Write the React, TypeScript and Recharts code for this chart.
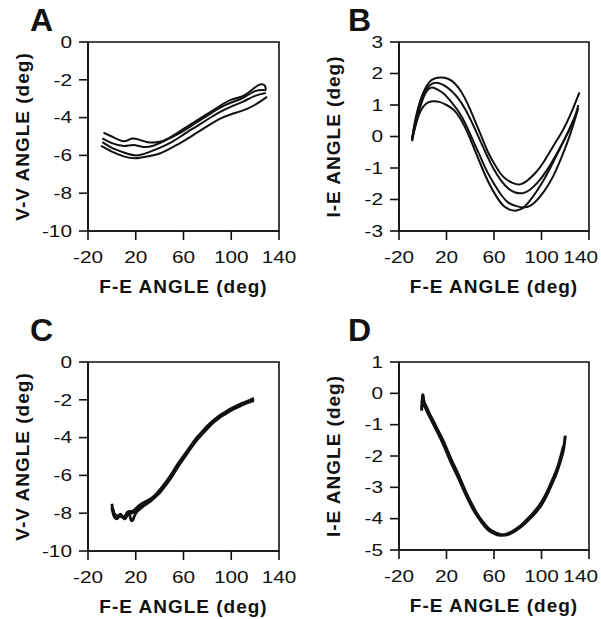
import React from 'react'
import { LineChart, Line, XAxis, YAxis, ReferenceArea } from 'recharts'

type Pt = [number, number]

// F-E angle ticks (shared by every panel)
const X_TICKS = [-20, 20, 60, 100, 140]
const VV_TICKS = [0, -2, -4, -6, -8, -10]
const IE_TICKS_B = [3, 2, 1, 0, -1, -2, -3]
const IE_TICKS_D = [1, 0, -1, -2, -3, -4, -5]

// Panel A: V-V angle, several cycles
const A_RUN1: Pt[] = [[-7, -4.8], [0, -5.0], [10, -5.25], [16, -5.12], [22, -5.15], [30, -5.3], [40, -5.28], [50, -5.0], [60, -4.6], [70, -4.2], [80, -3.8], [90, -3.4], [100, -3.05], [110, -2.85], [118, -2.5], [124, -2.25], [128, -2.3], [129, -2.55]]
const A_RUN2: Pt[] = [[-8, -5.1], [0, -5.35], [10, -5.5], [18, -5.45], [26, -5.55], [34, -5.5], [42, -5.3], [50, -5.05], [60, -4.7], [70, -4.3], [80, -3.9], [90, -3.5], [100, -3.2], [110, -2.95], [120, -2.6], [129, -2.55]]
const A_RUN3: Pt[] = [[-8, -5.3], [0, -5.6], [10, -5.85], [20, -6.0], [30, -5.85], [40, -5.6], [50, -5.3], [60, -4.9], [70, -4.5], [80, -4.1], [90, -3.72], [100, -3.42], [110, -3.15], [120, -2.85], [129, -2.7]]
const A_RUN4: Pt[] = [[-9, -5.5], [0, -5.8], [10, -6.05], [20, -6.15], [30, -6.05], [40, -5.9], [50, -5.6], [60, -5.25], [70, -4.85], [80, -4.45], [90, -4.08], [100, -3.82], [110, -3.62], [120, -3.32], [130, -2.9]]

// Panel B: I-E angle, several cycles
const B_RUN1: Pt[] = [[-9, -0.1], [-7, 0.4], [-4, 0.9], [0, 1.35], [5, 1.7], [10, 1.84], [15, 1.87], [20, 1.85], [25, 1.75], [30, 1.55], [35, 1.25], [40, 0.85], [45, 0.4], [50, -0.05], [55, -0.5], [60, -0.85], [65, -1.15], [70, -1.35], [76, -1.48], [82, -1.52], [88, -1.4], [95, -1.15], [102, -0.8], [110, -0.3], [118, 0.2], [125, 0.75], [132, 1.4]]
const B_RUN2: Pt[] = [[-9, -0.05], [-6, 0.5], [-2, 1.05], [3, 1.5], [8, 1.68], [13, 1.7], [18, 1.62], [24, 1.45], [30, 1.2], [36, 0.85], [42, 0.4], [48, -0.1], [54, -0.6], [60, -1.05], [66, -1.4], [72, -1.65], [78, -1.78], [84, -1.8], [90, -1.7], [97, -1.45], [104, -1.1], [112, -0.6], [120, -0.05], [127, 0.5], [131, 1.0]]
const B_RUN3: Pt[] = [[-9, -0.15], [-6, 0.4], [-2, 0.95], [2, 1.35], [7, 1.55], [12, 1.5], [18, 1.35], [24, 1.1], [30, 0.8], [36, 0.4], [42, -0.1], [48, -0.6], [54, -1.1], [60, -1.5], [66, -1.85], [72, -2.1], [78, -2.2], [86, -2.25], [94, -2.1], [102, -1.75], [110, -1.25], [117, -0.65], [124, 0.05], [131, 0.9]]
const B_RUN4: Pt[] = [[-9, -0.1], [-6, 0.35], [-2, 0.8], [3, 1.05], [8, 1.12], [14, 1.1], [20, 1.0], [26, 0.85], [32, 0.55], [38, 0.1], [44, -0.45], [50, -1.0], [56, -1.5], [62, -1.9], [68, -2.2], [74, -2.33], [79, -2.35], [85, -2.25], [92, -1.95], [100, -1.5], [108, -0.95], [116, -0.35], [123, 0.2], [130, 0.8]]

// Panel C: V-V angle, cycles nearly on top of each other
const C_RUN1: Pt[] = [[0, -7.5], [1, -7.9], [3, -8.1], [6, -8.15], [10, -8.2], [14, -8.05], [18, -7.95], [22, -7.75], [26, -7.55], [30, -7.4], [35, -7.2], [40, -6.85], [45, -6.45], [50, -6.0], [55, -5.5], [60, -5.05], [65, -4.6], [70, -4.15], [75, -3.8], [80, -3.45], [85, -3.15], [90, -2.9], [95, -2.7], [100, -2.5], [105, -2.35], [110, -2.2], [115, -2.08], [119, -1.98]]
const C_RUN2: Pt[] = [[0, -7.7], [2, -8.2], [5, -8.25], [8, -8.1], [11, -8.3], [14, -8.0], [16, -8.35], [18, -8.3], [20, -8.0], [24, -7.75], [28, -7.55], [32, -7.38], [36, -7.15], [40, -6.92], [45, -6.52], [50, -6.08], [55, -5.58], [60, -5.12], [65, -4.66], [70, -4.22], [75, -3.86], [80, -3.52], [85, -3.2], [90, -2.95], [95, -2.75], [100, -2.55], [105, -2.4], [110, -2.25], [115, -2.12], [119, -2.05]]
const C_RUN3: Pt[] = [[1, -7.8], [4, -8.3], [7, -8.05], [10, -8.25], [13, -7.95], [17, -7.9], [21, -7.7], [25, -7.5], [30, -7.33], [35, -7.12], [40, -6.78], [45, -6.38], [50, -5.93], [55, -5.43], [60, -4.98], [65, -4.54], [70, -4.09], [75, -3.74], [80, -3.39], [85, -3.1], [90, -2.85], [95, -2.65], [100, -2.46], [105, -2.3], [110, -2.16], [115, -2.04], [119, -1.92]]

// Panel D: I-E angle, cycles nearly on top of each other
const D_RUN1: Pt[] = [[-1, -0.55], [0, -0.05], [1, -0.3], [2, -0.35], [5, -0.6], [9, -0.9], [13, -1.2], [17, -1.5], [21, -1.85], [25, -2.2], [30, -2.6], [35, -3.05], [40, -3.45], [45, -3.8], [50, -4.08], [55, -4.3], [60, -4.43], [65, -4.5], [70, -4.52], [75, -4.45], [80, -4.33], [85, -4.18], [90, -4.0], [95, -3.8], [100, -3.55], [105, -3.2], [110, -2.78], [113, -2.5], [116, -2.15], [118.5, -1.8], [120, -1.35]]
const D_RUN2: Pt[] = [[-0.5, -0.45], [0.5, -0.2], [2, -0.42], [5, -0.68], [9, -0.98], [13, -1.28], [17, -1.6], [21, -1.95], [25, -2.3], [30, -2.7], [35, -3.12], [40, -3.52], [45, -3.86], [50, -4.13], [55, -4.35], [60, -4.47], [65, -4.53], [70, -4.5], [75, -4.42], [80, -4.3], [85, -4.14], [90, -3.95], [95, -3.74], [100, -3.48], [105, -3.13], [110, -2.7], [113, -2.42], [116, -2.05], [118.5, -1.68]]

const FONT = 'Arial, "Liberation Sans", Helvetica, sans-serif'
const INK = '#111'
const STRETCH = 1.3

const toData = (pts: Pt[]) => pts.map(([x, y]) => ({ x, y }))

const XTick = (props: any) => {
    const { x, y, payload, limit } = props
    const label = String(payload.value)
    // keep the last label inside the chart edge
    const half = (label.length * 0.556 * 16 * STRETCH) / 2
    const cx = limit ? Math.min(x, limit - half) : x
    return (
        <text x={0} y={0} dy="0.72em" textAnchor="middle" transform={`translate(${cx},${y}) scale(${STRETCH},1)`} fontSize={16} fontFamily={FONT} fill={INK}>
            {label}
        </text>
    )
}

const YTick = (props: any) => {
    const { x, y, payload } = props
    return (
        <text x={0} y={0} dy="0.36em" textAnchor="end" transform={`translate(${x},${y}) scale(${STRETCH},1)`} fontSize={16} fontFamily={FONT} fill={INK}>
            {payload.value}
        </text>
    )
}

const titleStyle = { fontFamily: FONT, fontWeight: 'bold' as const, fontSize: 19, letterSpacing: 1, fill: INK }

const xTitle = (props: any) => {
    const { x, y, width } = props.viewBox
    return (
        <text x={x + width / 2} y={y + 62} textAnchor="middle" style={titleStyle}>
            F-E ANGLE (deg)
        </text>
    )
}

const makeYTitle = (title: string) => (props: any) => {
    const { x, y, height } = props.viewBox
    const cx = x + 14
    const cy = y + height / 2
    return (
        <text x={cx} y={cy} dy="0.36em" textAnchor="middle" transform={`rotate(-90, ${cx}, ${cy})`} style={titleStyle}>
            {title}
        </text>
    )
}

interface PanelProps {
    letter: string
    left: number
    top: number
    width: number
    height: number
    margin: { top: number; right: number; bottom: number; left: number }
    yTitle: string
    yTicks: number[]
    runs: Pt[][]
    strokeWidth: number
    letterX: number
}

const Panel: React.FC<PanelProps> = ({ letter, left, top, width, height, margin, yTitle, yTicks, runs, strokeWidth, letterX }) => {
    const yMin = Math.min(...yTicks)
    const yMax = Math.max(...yTicks)
    return (
        <div style={{ position: 'absolute', left, top, width, height }}>
            <LineChart width={width} height={height} margin={margin}>
                <XAxis
                    dataKey="x"
                    type="number"
                    domain={[-20, 140]}
                    ticks={X_TICKS}
                    tick={<XTick limit={width - 3} />}
                    tickSize={9}
                    tickMargin={11}
                    height={30}
                    axisLine={{ stroke: INK, strokeWidth: 1.6 }}
                    tickLine={{ stroke: INK, strokeWidth: 1.6 }}
                    label={xTitle}
                />
                <YAxis
                    type="number"
                    domain={[yMin, yMax]}
                    ticks={yTicks}
                    tick={<YTick />}
                    tickSize={9}
                    tickMargin={7}
                    width={80}
                    interval={0}
                    axisLine={{ stroke: INK, strokeWidth: 1.6 }}
                    tickLine={{ stroke: INK, strokeWidth: 1.6 }}
                    label={makeYTitle(yTitle)}
                />
                <ReferenceArea x1={-20} x2={140} y1={yMin} y2={yMax} fill="none" stroke={INK} strokeWidth={1.6} ifOverflow="visible" />
                {runs.map((run, i) => (
                    <Line
                        key={i}
                        data={toData(run)}
                        dataKey="y"
                        type="natural"
                        stroke={INK}
                        strokeWidth={strokeWidth}
                        dot={false}
                        isAnimationActive={false}
                    />
                ))}
            </LineChart>
            <div style={{ position: 'absolute', left: letterX, top: 4, fontFamily: FONT, fontWeight: 'bold', fontSize: 32, lineHeight: '32px', color: INK }}>
                {letter}
            </div>
        </div>
    )
}

export default function App() {
    return (
        <div style={{ position: 'absolute', left: 0, top: 0, width: 601, height: 619, background: '#fff' }}>
            <Panel letter="A" left={0} top={0} width={300} height={310} margin={{ top: 42, right: 21, bottom: 49, left: 8 }} letterX={30}
                yTitle="V-V ANGLE (deg)" yTicks={VV_TICKS} runs={[A_RUN1, A_RUN2, A_RUN3, A_RUN4]} strokeWidth={2} />
            <Panel letter="B" left={300} top={0} width={301} height={310} margin={{ top: 42, right: 12, bottom: 49, left: 19 }} letterX={48}
                yTitle="I-E ANGLE (deg)" yTicks={IE_TICKS_B} runs={[B_RUN1, B_RUN2, B_RUN3, B_RUN4]} strokeWidth={2} />
            <Panel letter="C" left={0} top={310} width={300} height={309} margin={{ top: 52, right: 21, bottom: 38, left: 8 }} letterX={30}
                yTitle="V-V ANGLE (deg)" yTicks={VV_TICKS} runs={[C_RUN1, C_RUN2, C_RUN3]} strokeWidth={2.8} />
            <Panel letter="D" left={300} top={310} width={301} height={309} margin={{ top: 52, right: 12, bottom: 39, left: 19 }} letterX={48}
                yTitle="I-E ANGLE (deg)" yTicks={IE_TICKS_D} runs={[D_RUN1, D_RUN2]} strokeWidth={3} />
        </div>
    )
}
